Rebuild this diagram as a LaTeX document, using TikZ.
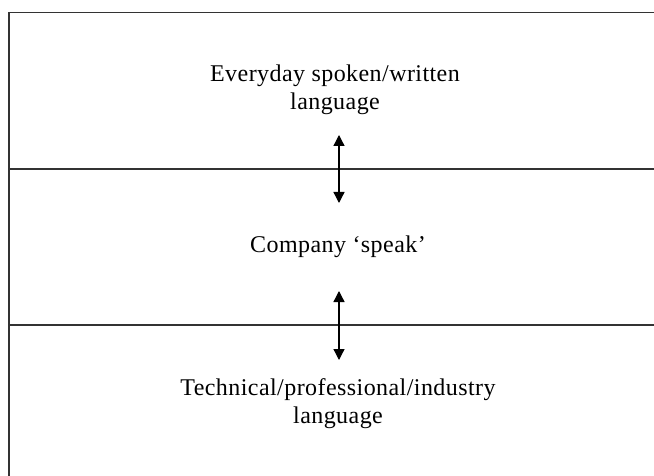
\documentclass[tikz,border=0pt]{standalone}
\usepackage{fontspec}
\setmainfont{Liberation Serif}[LetterSpace=1.8]
\usetikzlibrary{arrows.meta}
\tikzset{
  lbl/.style={align=center, font=\fontsize{24}{28}\selectfont, inner sep=0pt},
  rule/.style={line width=1.2pt, draw=black!80},
  link/.style={line width=1.3pt, {Triangle[width=11pt,length=11pt]}-{Triangle[width=11pt,length=11pt]}}
}
\begin{document}
\begin{tikzpicture}[x=1pt,y=-1pt]
\useasboundingbox (0,0) rectangle (654,476);
\clip (0,0) rectangle (654,476);
\fill[white] (0,0) rectangle (654,476);
\draw[rule] (9,12.5) rectangle (670,490);
\draw[rule] (9,169) -- (670,169);
\draw[rule] (9,325) -- (670,325);
\node[lbl] (top) at (335,90) {Everyday spoken/written\\language};
\node[lbl] (mid) at (338,247) {Company ‘speak’};
\node[lbl] (bot) at (338,404) {Technical/professional/industry\\language};
\coordinate (a1) at (339,135);
\coordinate (a2) at (339,203);
\coordinate (b1) at (339,291);
\coordinate (b2) at (339,360);
\draw[link] (a1) -- (a2);
\draw[link] (b1) -- (b2);
\end{tikzpicture}
\end{document}
